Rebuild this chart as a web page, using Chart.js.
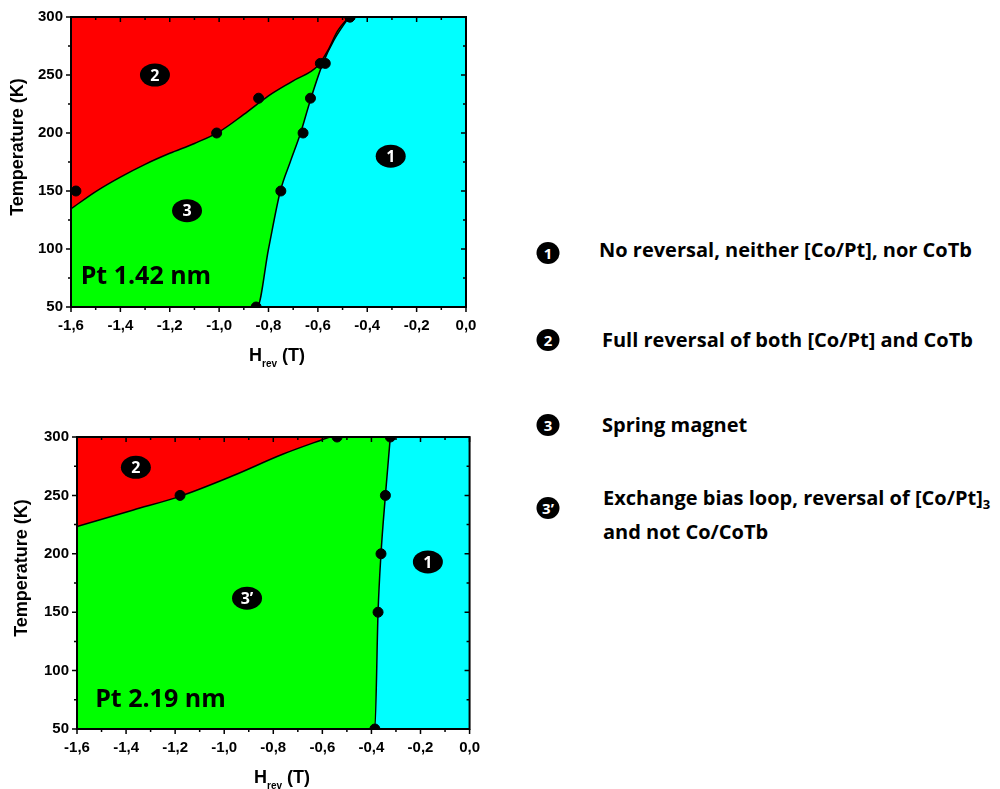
<!DOCTYPE html>
<html>
<head>
<meta charset="utf-8">
<script src="https://cdn.jsdelivr.net/npm/chart.js@4.4.0/dist/chart.umd.min.js"></script>
<style>
body{margin:0;background:#fff;width:1000px;height:789px;position:relative;overflow:hidden}
canvas{position:absolute;left:0}
.ytitle{position:absolute;font:bold 18px "Liberation Sans";white-space:nowrap;line-height:1;transform:translate(-50%,-50%) rotate(-90deg)}
.xtitle{position:absolute;font:bold 18px "Liberation Sans";white-space:nowrap;line-height:1;transform:translate(-50%,-50%)}
.xtitle sub{font-size:10px;vertical-align:-6px;line-height:0}
.key{position:absolute;font:bold 20px "Open Sans";white-space:nowrap;line-height:34px}
.key sub{font-size:13px;vertical-align:-4px;line-height:0}
.dot{position:absolute;width:23px;height:22px;border-radius:50%;background:#000;color:#fff;font:bold 15px "Open Sans";text-align:center;line-height:22px;transform:translate(-50%,-50%)}
</style>
</head>
<body>
<canvas id="chart142" width="490" height="370" style="top:0"></canvas>
<canvas id="chart219" width="490" height="369" style="top:420px"></canvas>

<div class="ytitle" style="left:17px;top:147px">Temperature (K)</div>
<div class="xtitle" style="left:277px;top:355px">H<sub>rev</sub> (T)</div>
<div class="ytitle" style="left:21px;top:568px">Temperature (K)</div>
<div class="xtitle" style="left:282px;top:777px">H<sub>rev</sub> (T)</div>

<div class="dot" style="left:548px;top:253px">1</div>
<div class="key" style="left:599px;top:233px">No reversal, neither [Co/Pt], nor CoTb</div>
<div class="dot" style="left:548px;top:340px">2</div>
<div class="key" style="left:602px;top:323px">Full reversal of both [Co/Pt] and CoTb</div>
<div class="dot" style="left:548px;top:425px">3</div>
<div class="key" style="left:602px;top:408px">Spring magnet</div>
<div class="dot" style="left:548px;top:508px">3’</div>
<div class="key" style="left:603px;top:481px">Exchange bias loop, reversal of [Co/Pt]<sub>3</sub><br>and not Co/CoTb</div>

<script>
// axis ranges and tick labels
const fieldTicks = [-1.6, -1.4, -1.2, -1.0, -0.8, -0.6, -0.4, -0.2, 0.0];
const tempTicks = [50, 100, 150, 200, 250, 300];

// Pt 1.42 nm : measured reversal fields
const pt142_redH = [-1.58, -1.01, -0.84, -0.59, -0.47];
const pt142_redT = [150, 200, 230, 260, 300];
const pt142_cyanH = [-0.85, -0.75, -0.66, -0.63, -0.57, -0.47];
const pt142_cyanT = [50, 150, 200, 230, 260, 300];
// Pt 1.42 nm : guide lines between regions
const pt142_lineRedH = [-1.6, -1.5, -1.4, -1.3, -1.2, -1.1, -1.0, -0.9, -0.8, -0.7, -0.6, -0.56, -0.52, -0.474];
const pt142_lineRedT = [134.6, 149.5, 162, 173, 182.5, 191, 201, 216, 232, 245, 258, 271, 288, 300];
const pt142_lineCyanH = [-0.846, -0.8, -0.752, -0.712, -0.67, -0.628, -0.58, -0.535, -0.474];
const pt142_lineCyanT = [50, 100, 150, 175, 200, 230, 260, 280, 300];

// Pt 2.19 nm : measured reversal fields
const pt219_redH = [-1.18, -0.54];
const pt219_redT = [250, 300];
const pt219_cyanH = [-0.386, -0.373, -0.361, -0.343, -0.323];
const pt219_cyanT = [50, 150, 200, 250, 300];
// Pt 2.19 nm : guide lines
const pt219_lineRedH = [-1.6, -1.37, -1.178, -0.965, -0.762, -0.57];
const pt219_lineRedT = [223.3, 237.5, 249.4, 266.8, 285.2, 300];
const pt219_lineCyanH = [-0.386, -0.373, -0.361, -0.343, -0.323];
const pt219_lineCyanT = [50, 150, 200, 250, 300];

const zip = (xs, ys) => xs.map((x, i) => ({x: x, y: ys[i]}));
const fmtField = v => (Math.abs(v) < 1e-9 ? 0 : v).toFixed(1).replace('.', ',');

Chart.defaults.font.family = 'Liberation Sans';
Chart.defaults.font.weight = 'bold';
Chart.defaults.font.size = 15;
Chart.defaults.color = '#000';

// cyan background of the plot area
const bgPlugin = {
    id: 'bg',
    beforeDatasetsDraw(chart) {
        const {ctx, chartArea: a} = chart;
        ctx.save();
        ctx.fillStyle = '#00FFFF';
        ctx.fillRect(a.left, a.top, a.right - a.left, a.bottom - a.top);
        ctx.restore();
    }
};

// region badges and sample name
const marksPlugin = {
    id: 'marks',
    afterDatasetsDraw(chart, args, opts) {
        const {ctx, scales: {x, y}} = chart;
        ctx.save();
        (opts.badges || []).forEach(b => {
            const px = x.getPixelForValue(b.H), py = y.getPixelForValue(b.T);
            ctx.fillStyle = '#000';
            ctx.beginPath();
            ctx.ellipse(px, py, 15, 11.5, 0, 0, Math.PI * 2);
            ctx.fill();
            ctx.fillStyle = '#fff';
            ctx.font = 'bold 16px "Open Sans"';
            ctx.textAlign = 'center';
            ctx.textBaseline = 'middle';
            ctx.fillText(b.label, px, py + 1);
        });
        if (opts.tag) {
            ctx.fillStyle = '#000';
            ctx.font = 'bold 25px "Open Sans"';
            ctx.textAlign = 'left';
            ctx.textBaseline = 'middle';
            ctx.fillText(opts.tag.text, x.getPixelForValue(opts.tag.H), y.getPixelForValue(opts.tag.T));
        }
        ctx.restore();
    }
};

// frame with Origin-style ticks: out on bottom/left, in on top/right
const framePlugin = {
    id: 'frame',
    afterDraw(chart) {
        const {ctx, chartArea: a, scales: {x, y}} = chart;
        ctx.save();
        ctx.strokeStyle = '#000';
        ctx.lineWidth = 1.5;
        ctx.beginPath();
        for (let i = 0; i <= 16; i++) {
            const px = x.getPixelForValue(-1.6 + i * 0.1);
            const len = i % 2 ? 3 : 5;
            ctx.moveTo(px, a.bottom); ctx.lineTo(px, a.bottom + len);
            ctx.moveTo(px, a.top); ctx.lineTo(px, a.top + len);
        }
        for (let i = 0; i <= 10; i++) {
            const py = y.getPixelForValue(50 + i * 25);
            const len = i % 2 ? 3 : 5;
            ctx.moveTo(a.left, py); ctx.lineTo(a.left - len, py);
            ctx.moveTo(a.right, py); ctx.lineTo(a.right - len, py);
        }
        ctx.stroke();
        ctx.lineWidth = 2;
        ctx.strokeRect(a.left, a.top, a.right - a.left, a.bottom - a.top);
        ctx.restore();
    }
};

function phaseChart(id, d) {
    return new Chart(document.getElementById(id), {
        type: 'scatter',
        data: {
            datasets: [{
                data: zip(d.redH, d.redT).concat(zip(d.cyanH, d.cyanT)),
                backgroundColor: '#000',
                borderColor: '#000',
                pointRadius: 5,
                order: 0
            }, {
                data: zip(d.lineRedH, d.lineRedT),
                showLine: true,
                pointRadius: 0,
                borderColor: '#000',
                borderWidth: 1.5,
                backgroundColor: '#FF0000',
                cubicInterpolationMode: 'monotone',
                fill: 'end',
                order: 1
            }, {
                data: [{x: fieldTicks[0], y: tempTicks[0]}].concat(zip(d.lineCyanH, d.lineCyanT)),
                showLine: true,
                pointRadius: 0,
                borderColor: '#000',
                borderWidth: 1.5,
                backgroundColor: '#00FF00',
                cubicInterpolationMode: 'monotone',
                fill: 'end',
                order: 2
            }]
        },
        options: {
            responsive: false,
            animation: false,
            events: [],
            layout: {padding: d.padding},
            plugins: {
                legend: {display: false},
                tooltip: {enabled: false},
                marks: {badges: d.badges, tag: d.tag}
            },
            scales: {
                x: {
                    type: 'linear',
                    min: -1.6,
                    max: 0,
                    grid: {display: false, drawTicks: false},
                    border: {display: false},
                    ticks: {padding: 10, autoSkip: false, maxRotation: 0, callback: v => fmtField(v)},
                    afterBuildTicks: s => { s.ticks = fieldTicks.map(v => ({value: v})); },
                    afterFit: s => { s.height = d.xHeight; }
                },
                y: {
                    type: 'linear',
                    min: 50,
                    max: 300,
                    grid: {display: false, drawTicks: false},
                    border: {display: false},
                    ticks: {padding: 8, autoSkip: false},
                    afterBuildTicks: s => { s.ticks = tempTicks.map(v => ({value: v})); },
                    afterFit: s => { s.width = d.yWidth; }
                }
            }
        },
        plugins: [bgPlugin, marksPlugin, framePlugin]
    });
}

phaseChart('chart142', {
    redH: pt142_redH, redT: pt142_redT,
    cyanH: pt142_cyanH, cyanT: pt142_cyanT,
    lineRedH: pt142_lineRedH, lineRedT: pt142_lineRedT,
    lineCyanH: pt142_lineCyanH, lineCyanT: pt142_lineCyanT,
    badges: [{label: '2', H: -1.26, T: 250}, {label: '1', H: -0.305, T: 180}, {label: '3', H: -1.13, T: 133}],
    tag: {text: 'Pt 1.42 nm', H: -1.561, T: 76},
    padding: {top: 15, right: 24, left: 0, bottom: 0},
    yWidth: 71, xHeight: 63
});

phaseChart('chart219', {
    redH: pt219_redH, redT: pt219_redT,
    cyanH: pt219_cyanH, cyanT: pt219_cyanT,
    lineRedH: pt219_lineRedH, lineRedT: pt219_lineRedT,
    lineCyanH: pt219_lineCyanH, lineCyanT: pt219_lineCyanT,
    badges: [{label: '2', H: -1.36, T: 274}, {label: '1', H: -0.17, T: 193}, {label: '3’', H: -0.907, T: 162}],
    tag: {text: 'Pt 2.19 nm', H: -1.526, T: 75},
    padding: {top: 16, right: 19, left: 0, bottom: 0},
    yWidth: 77, xHeight: 60
});
</script>
</body>
</html>
